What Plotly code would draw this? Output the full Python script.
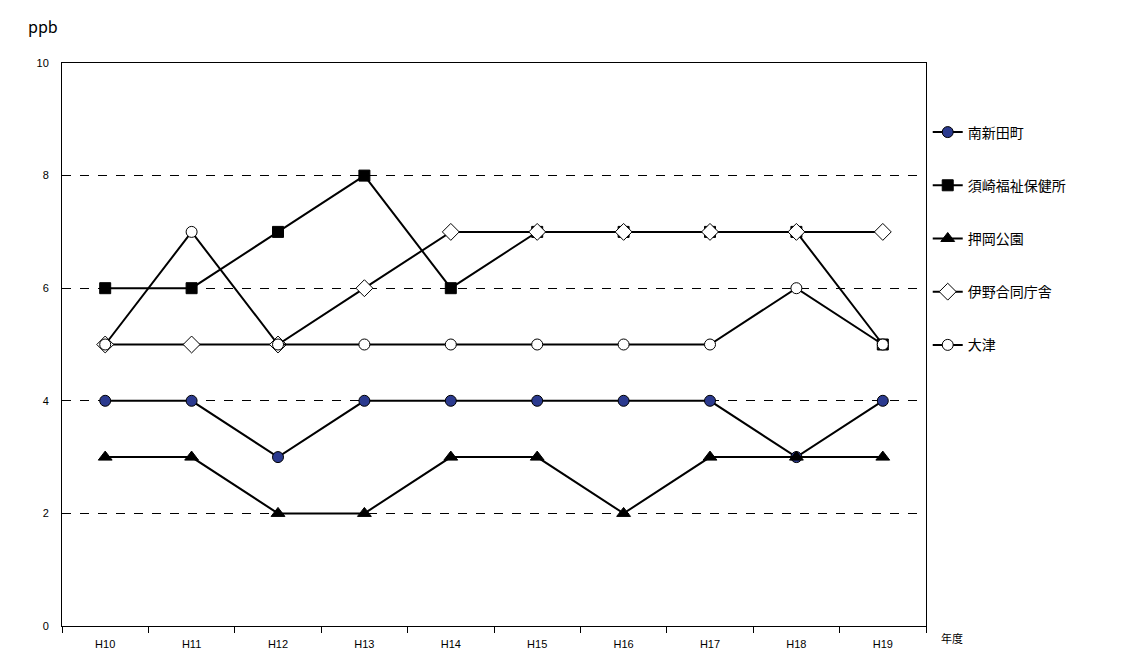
import plotly.graph_objects as go

years = ["H10","H11","H12","H13","H14","H15","H16","H17","H18","H19"]
s_minami = [4,4,3,4,4,4,4,4,3,4]
s_susaki = [6,6,7,8,6,7,7,7,7,5]
s_oshioka = [3,3,2,2,3,3,2,3,3,3]
s_ino = [5,5,5,6,7,7,7,7,7,7]
s_otsu = [5,7,5,5,5,5,5,5,6,5]

series = [
    ("南新田町", s_minami, "circle", "#2B3A8F", 11),
    ("須崎福祉保健所", s_susaki, "square", "black", 11),
    ("押岡公園", s_oshioka, "triangle-up", "black", 12),
    ("伊野合同庁舎", s_ino, "diamond", "white", 13),
    ("大津", s_otsu, "circle", "white", 11),
]

fig = go.Figure()
for i, (name, vals, sym, col, sz) in enumerate(series):
    fig.add_trace(go.Scatter(
        x=years, y=vals, name=name, mode="lines+markers",
        line=dict(color="black", width=2),
        marker=dict(symbol=sym, color=col, size=sz, line=dict(color="black", width=1)),
        legendgroup=f"g{i}",
    ))

fig.update_layout(
    width=1127, height=653, plot_bgcolor="white", paper_bgcolor="white",
    margin=dict(l=54, r=209, t=55, b=35),
    font=dict(family="Noto Sans CJK JP", color="black", size=11),
    showlegend=True,
    legend=dict(x=1.002, y=0.905, yanchor="top", tracegroupgap=32,
                font=dict(size=14, family="Noto Sans CJK JP"), bgcolor="rgba(0,0,0,0)"),
    annotations=[
        dict(text="ppb", xref="paper", yref="paper", x=-0.042, y=1.09, xanchor="left",
             showarrow=False, font=dict(size=16)),
        dict(text="年度", xref="paper", yref="paper", x=1.045, y=0, yanchor="middle",
             yshift=-12, showarrow=False, font=dict(size=11)),
    ],
)
fig.update_xaxes(range=[-0.5, 9.5], tickson="boundaries", ticks="outside", ticklen=6,
                 tickcolor="black", showline=True, linecolor="black", mirror=True, showgrid=False,
                 ticklabelstandoff=8,
                 tickfont=dict(size=11, family="Liberation Sans", color="black"))
fig.update_yaxes(range=[0, 10], dtick=2, showline=True, linecolor="black", mirror=True,
                 showgrid=True, gridcolor="black", griddash="dash", gridwidth=1,
                 ticks="", zeroline=False, ticklabelstandoff=10,
                 tickfont=dict(size=11, family="Liberation Sans", color="black"))
fig.write_html("out.html")
